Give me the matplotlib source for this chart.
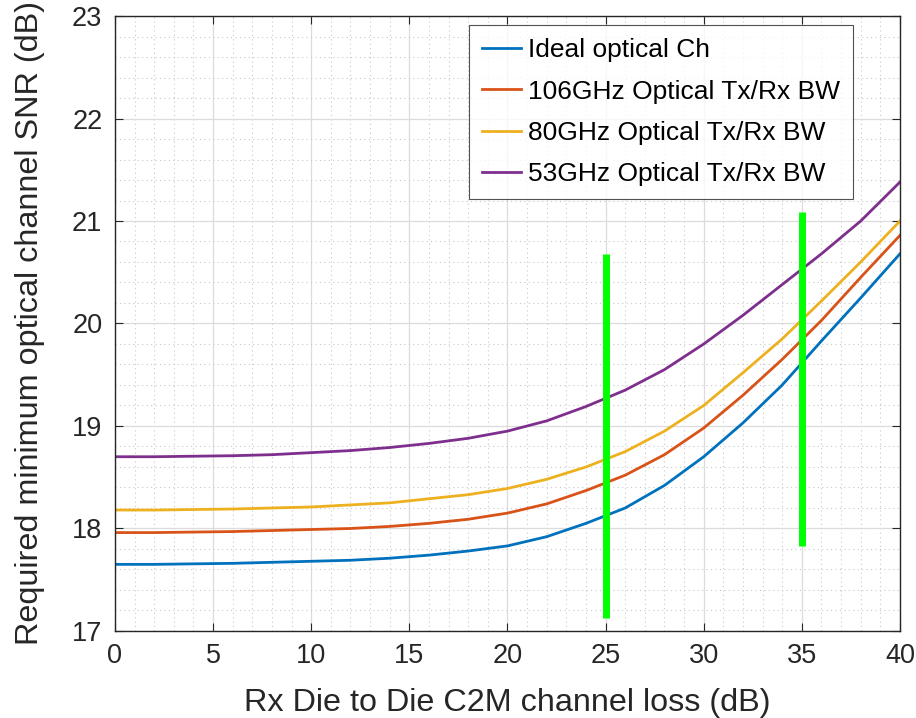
import matplotlib
matplotlib.use("Agg")
import matplotlib.pyplot as plt
from matplotlib.ticker import MultipleLocator

loss_db = [0, 2, 4, 6, 8, 10, 12, 14, 16, 18, 20, 22, 24, 26, 28, 30, 32, 34, 36, 38, 40]
snr_ideal = [17.65, 17.65, 17.655, 17.66, 17.67, 17.68, 17.69, 17.71, 17.74, 17.78, 17.83, 17.92, 18.05, 18.2, 18.42, 18.7, 19.03, 19.4, 19.83, 20.25, 20.68]
snr_106 = [17.96, 17.96, 17.965, 17.97, 17.98, 17.99, 18.0, 18.02, 18.05, 18.09, 18.15, 18.24, 18.37, 18.52, 18.72, 18.98, 19.3, 19.65, 20.03, 20.45, 20.86]
snr_80 = [18.18, 18.18, 18.185, 18.19, 18.2, 18.21, 18.23, 18.25, 18.29, 18.33, 18.39, 18.48, 18.6, 18.75, 18.95, 19.2, 19.52, 19.85, 20.22, 20.6, 21.0]
snr_53 = [18.7, 18.7, 18.705, 18.71, 18.72, 18.74, 18.76, 18.79, 18.83, 18.88, 18.95, 19.05, 19.19, 19.35, 19.55, 19.8, 20.08, 20.38, 20.68, 21.0, 21.38]
labels = ["Ideal optical Ch", "106GHz Optical Tx/Rx BW", "80GHz Optical Tx/Rx BW", "53GHz Optical Tx/Rx BW"]
colors = ["#0072BD", "#D95319", "#EDB120", "#7E2F8E"]

marker_x = [25, 35]
marker_lo = [17.13, 17.83]
marker_hi = [20.68, 21.09]

plt.rcParams['font.family'] = ['Liberation Sans', 'DejaVu Sans']

fig = plt.figure(figsize=(9.16, 7.18), dpi=100)
ax = fig.add_axes([0.1255, 0.1212, 0.857, 0.8565])

for ys, lab, c in zip([snr_ideal, snr_106, snr_80, snr_53], labels, colors):
    ax.plot(loss_db, ys, color=c, lw=2.0, label=lab)

for x, lo, hi in zip(marker_x, marker_lo, marker_hi):
    ax.plot([x, x], [lo, hi], color="#00FF00", lw=5, solid_capstyle='butt')

ax.set_xlim(0, 40)
ax.set_ylim(17, 23)
ax.xaxis.set_major_locator(MultipleLocator(5))
ax.xaxis.set_minor_locator(MultipleLocator(1))
ax.yaxis.set_major_locator(MultipleLocator(1))
ax.yaxis.set_minor_locator(MultipleLocator(0.2))
ax.grid(which='major', color='#dcdcdc', lw=0.9, ls='-')
ax.grid(which='minor', color='#c8c8c8', lw=0.8, ls=(0, (1, 3)))
ax.set_axisbelow(True)
ax.tick_params(which='major', direction='in', top=True, right=True, length=6,
               labelsize=19.5, color='#262626', labelcolor='#262626', pad=9)
ax.tick_params(which='minor', length=0, top=True, right=True)
for s in ax.spines.values():
    s.set_color('#262626')
    s.set_linewidth(1.0)

ax.set_xlabel("Rx Die to Die C2M channel loss (dB)", fontsize=23.3, color='#262626')
ax.set_ylabel("Required minimum optical channel SNR (dB)", fontsize=23.3, color='#262626')
ax.xaxis.set_label_coords(0.5, -0.092)
ax.yaxis.set_label_coords(-0.089, 0.5)

leg = ax.legend(loc='upper right', bbox_to_anchor=(0.94, 0.985), fontsize=19, frameon=True,
                fancybox=False, edgecolor='#262626', handlelength=1.45, handletextpad=0.27,
                labelspacing=0.655, borderpad=0.5, borderaxespad=0)
leg.get_frame().set_linewidth(0.8)

fig.savefig("out.png", dpi=100, facecolor='white')
